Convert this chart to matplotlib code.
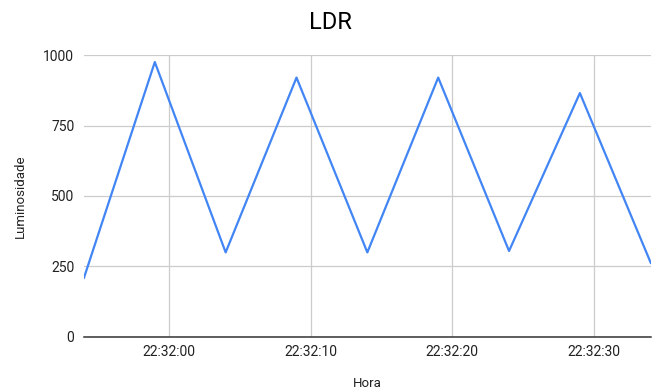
import datetime as dt
import matplotlib
matplotlib.use('Agg')
import matplotlib.pyplot as plt
import matplotlib.dates as mdates

plt.rcParams['font.family'] = ['Roboto', 'DejaVu Sans']

# leituras do LDR a cada 5 s
horas = ['22:31:54', '22:31:59', '22:32:04', '22:32:09', '22:32:14',
         '22:32:19', '22:32:24', '22:32:29', '22:32:34']
luminosidade = [210, 975, 300, 920, 300, 920, 305, 865, 263]
y_ticks = [0, 250, 500, 750, 1000]

base = dt.date(2024, 1, 1)
x = [dt.datetime.combine(base, dt.datetime.strptime(h, '%H:%M:%S').time()) for h in horas]

fig = plt.figure(figsize=(6.54, 3.89), dpi=100)
ax = fig.add_axes([0.1284, 0.1337, 0.8666, 0.7249])

ax.plot(x, luminosidade, color='#4285F4', linewidth=1.6, zorder=3)

ax.set_xlim(x[0], x[-1])
ax.set_ylim(0, 1000)
ax.set_yticks(y_ticks)
ax.xaxis.set_major_locator(mdates.SecondLocator(bysecond=[0, 10, 20, 30, 40, 50]))
ax.xaxis.set_major_formatter(mdates.DateFormatter('%H:%M:%S'))

ax.grid(True, color='#cccccc', linewidth=0.9, zorder=0)
for s in ['top', 'right', 'left']:
    ax.spines[s].set_visible(False)
ax.spines['bottom'].set_color('#333333')
ax.spines['bottom'].set_linewidth(1.1)
ax.spines['bottom'].set_zorder(4)
ax.tick_params(length=0, labelsize=10, colors='#222222', pad=6)
ax.tick_params(axis='y', pad=7)

fig.text(0.505, 0.943, 'LDR', ha='center', va='center', fontsize=17, color='#000000')
ax.set_xlabel('Hora', fontsize=9.5, color='#222222', labelpad=13)
ax.set_ylabel('Luminosidade', fontsize=9.5, color='#222222', labelpad=12)

fig.savefig('out.png', dpi=100)
